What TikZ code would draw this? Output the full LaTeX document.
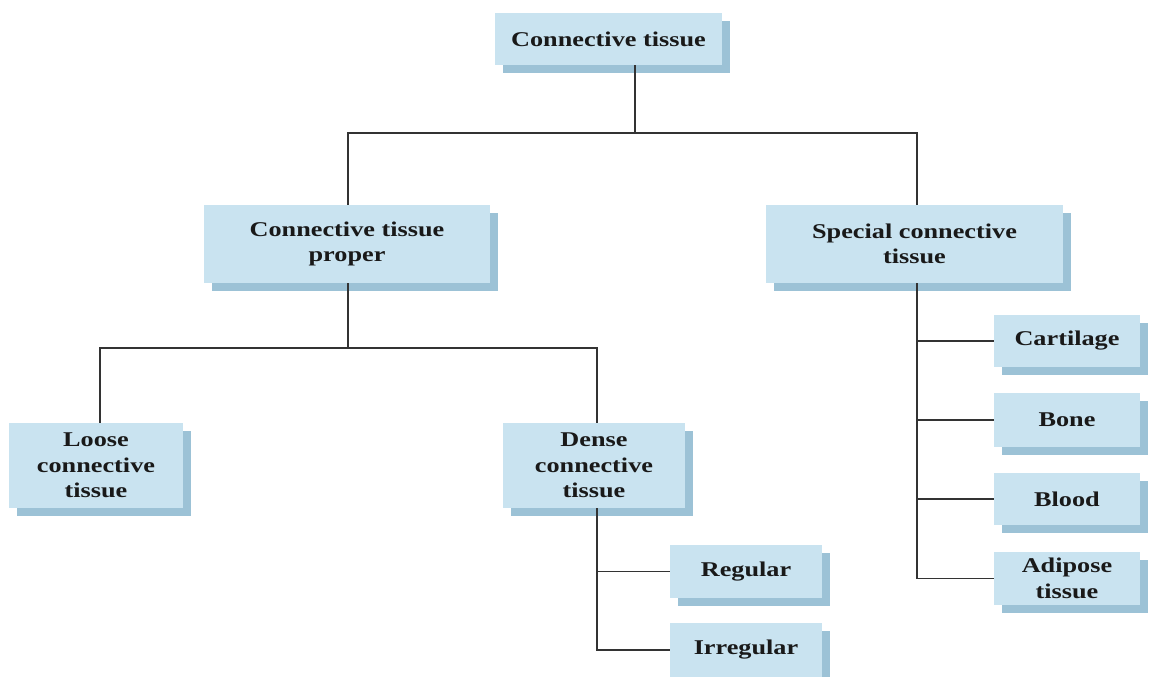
\documentclass[tikz,border=0pt]{standalone}
\usepackage{fontspec}
\setmainfont{Liberation Serif}[FakeStretch=1.25]
\usetikzlibrary{shadows}
\definecolor{boxblue}{HTML}{C9E3F0}
\definecolor{shadeblue}{HTML}{9CC2D6}
\definecolor{linegray}{HTML}{333333}
\begin{document}
\begin{tikzpicture}[x=1pt,y=-1pt,
  tbox/.style={fill=boxblue,align=center,inner sep=0pt,
    font=\bfseries\fontsize{21}{25.5}\selectfont,text=black!90,
    drop shadow={shadow xshift=8pt,shadow yshift=-8pt,fill=shadeblue,opacity=1}},
  link/.style={draw=linegray,line width=1.6pt}]
  \useasboundingbox (0,0) rectangle (1149,677);
  \node[tbox,minimum width=227pt,minimum height=52pt] (ct) at (608.5,39) {Connective tissue};
  \node[tbox,minimum width=286pt,minimum height=78pt] (ctp) at (347,244) {Connective tissue\\proper};
  \node[tbox,minimum width=297pt,minimum height=78pt] (sct) at (914.5,244) {Special connective\\tissue};
  \node[tbox,minimum width=174pt,minimum height=85pt] (loose) at (96,465.5) {Loose\\connective\\tissue};
  \node[tbox,minimum width=182pt,minimum height=85pt] (dense) at (594,465.5) {Dense\\connective\\tissue};
  \node[tbox,minimum width=152pt,minimum height=53pt] (reg) at (746,571.5) {Regular};
  \node[tbox,minimum width=152pt,minimum height=54pt] (irreg) at (746,650) {Irregular};
  \node[tbox,minimum width=146pt,minimum height=52pt] (cart) at (1067,341) {Cartilage};
  \node[tbox,minimum width=146pt,minimum height=54pt] (bone) at (1067,420) {Bone};
  \node[tbox,minimum width=146pt,minimum height=52pt] (blood) at (1067,499) {Blood};
  \node[tbox,minimum width=146pt,minimum height=53pt] (adip) at (1067,578.5) {Adipose\\tissue};
  \coordinate (j1) at (635,133);
  \coordinate (j2) at (348,348);
  \coordinate (j3) at (597,650);
  \coordinate (j4) at (917,578.5);
  \coordinate (j5) at (100,348);
  \path[link]
    (j1 |- ct.south) -- (j1)
    (ctp.north -| j2) |- (j1) -| (sct.north -| j4)
    (ctp.south -| j2) -- (j2)
    (loose.north -| j5) |- (j2) -| (dense.north -| j3)
    (dense.south -| j3) -- (j3) -- (irreg.west)
    (reg.west) -- (reg.west -| j3)
    (sct.south -| j4) -- (j4) -- (adip.west)
    (cart.west) -- (cart.west -| j4)
    (bone.west) -- (bone.west -| j4)
    (blood.west) -- (blood.west -| j4);
\end{tikzpicture}
\end{document}
